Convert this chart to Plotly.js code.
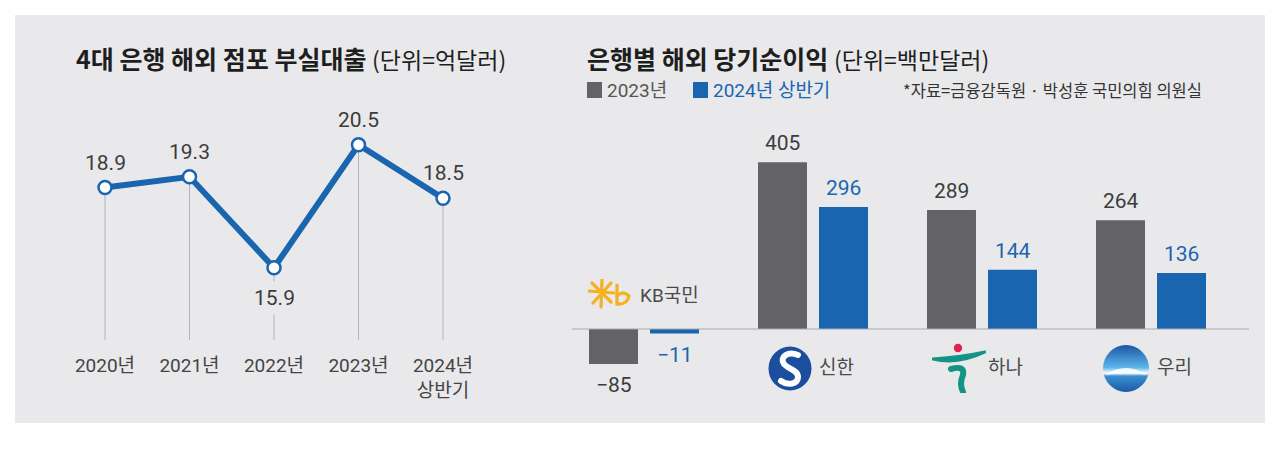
<!DOCTYPE html>
<html>
<head>
<meta charset="utf-8">
<script src="https://cdn.plot.ly/plotly-3.0.1.min.js"></script>
<style>
html,body{margin:0;padding:0;background:#fff;}
#chart{width:1280px;height:463px;}
</style>
</head>
<body>
<div id="chart"></div>
<script>
// ---------- data ----------
const years = ['2020년', '2021년', '2022년', '2023년', '2024년<br>상반기'];
const badLoans = [18.9, 19.3, 15.9, 20.5, 18.5];

const banks = ['KB국민', '신한', '하나', '우리'];
const profit2023 = [-85, 405, 289, 264];
const profit2024H1 = [-11, 296, 144, 136];

const seriesNames = ['2023년', '2024년 상반기'];

// ---------- style ----------
const W = 1280, H = 463;
const px = x => x / W;
const py = y => 1 - y / H;
const NUMFONT = "Roboto,'Noto Sans CJK KR',sans-serif";
const KFONT = "'Noto Sans CJK KR',Roboto,sans-serif";
const BLUE = '#1a65b0';
const GRAY = '#636366';
const TXT = '#3c3c3c';
const PANEL = '#e9e9eb';

const xIdxLeft = years.map((_, i) => i);
const xIdxRight = banks.map((_, i) => i);

// ---------- traces ----------
const lineTrace = {
  type: 'scatter', mode: 'lines+markers',
  x: xIdxLeft, y: badLoans, xaxis: 'x', yaxis: 'y',
  line: {color: BLUE, width: 6},
  marker: {size: 13, color: '#ffffff', line: {color: BLUE, width: 2.5}},
  showlegend: false, hoverinfo: 'skip', cliponaxis: false
};
const bar23 = {
  type: 'bar', name: seriesNames[0], x: xIdxRight, y: profit2023,
  xaxis: 'x2', yaxis: 'y2', marker: {color: GRAY}, showlegend: false, hoverinfo: 'skip'
};
const bar24 = {
  type: 'bar', name: seriesNames[1], x: xIdxRight, y: profit2024H1,
  xaxis: 'x2', yaxis: 'y2', marker: {color: BLUE}, showlegend: false, hoverinfo: 'skip'
};

// ---------- shapes ----------
const shapes = [
  {type: 'rect', xref: 'paper', yref: 'paper', x0: px(15), x1: px(1265), y0: py(423), y1: py(15),
   fillcolor: PANEL, line: {width: 0}, layer: 'below'},
  // zero line of bar chart
  {type: 'line', xref: 'paper', yref: 'y2', x0: px(572), x1: px(1249), y0: 0, y1: 0,
   line: {color: '#a9a9ab', width: 1.2}, layer: 'above'},
  // legend squares
  {type: 'rect', xref: 'paper', yref: 'paper', x0: px(587), x1: px(602), y0: py(98), y1: py(82),
   fillcolor: GRAY, line: {width: 0}},
  {type: 'rect', xref: 'paper', yref: 'paper', x0: px(693), x1: px(708), y0: py(98), y1: py(82),
   fillcolor: BLUE, line: {width: 0}}
];
// drop lines from each point down to the category labels
badLoans.forEach((v, i) => {
  shapes.push({type: 'line', xref: 'x', yref: 'y', x0: i, x1: i, y0: 13.2, y1: v,
    line: {color: '#b4b4b6', width: 1}, layer: 'below'});
});

// ---------- annotations ----------
const ann = [];
ann.push({xref: 'paper', yref: 'paper', x: px(74), y: py(58), xanchor: 'left', yanchor: 'middle', showarrow: false,
  text: "<b>4대 은행 해외 점포 부실대출</b> <span style='font-weight:normal;font-size:23px;'>(단위=억달러)</span>",
  font: {family: KFONT, size: 25, color: '#1e1e1e'}});
ann.push({xref: 'paper', yref: 'paper', x: px(585), y: py(58), xanchor: 'left', yanchor: 'middle', showarrow: false,
  text: "<b>은행별 해외 당기순이익</b> <span style='font-weight:normal;font-size:23px;'>(단위=백만달러)</span>",
  font: {family: KFONT, size: 25, color: '#1e1e1e'}});
// legend texts
ann.push({xref: 'paper', yref: 'paper', x: px(605), y: py(90), xanchor: 'left', yanchor: 'middle', showarrow: false,
  text: seriesNames[0], font: {family: NUMFONT, size: 19, color: '#555'}});
ann.push({xref: 'paper', yref: 'paper', x: px(711), y: py(90), xanchor: 'left', yanchor: 'middle', showarrow: false,
  text: seriesNames[1], font: {family: NUMFONT, size: 19, color: BLUE}});
// source
ann.push({xref: 'paper', yref: 'paper', x: px(901), y: py(90), xanchor: 'left', yanchor: 'middle', showarrow: false,
  text: '*자료=금융감독원 · 박성훈 국민의힘 의원실', font: {family: KFONT, size: 16.5, color: '#333'}});

// line value labels
badLoans.forEach((v, i) => {
  const prev = i > 0 ? badLoans[i - 1] : -Infinity;
  const next = i < badLoans.length - 1 ? badLoans[i + 1] : -Infinity;
  const below = v < prev && v < next && i > 0 && i < badLoans.length - 1;
  ann.push({xref: 'x', yref: 'y', x: i, y: v, showarrow: false,
    yanchor: below ? 'top' : 'bottom', yshift: below ? -13 : 12,
    text: v.toFixed(1), bgcolor: below ? PANEL : 'rgba(0,0,0,0)', borderpad: below ? 4 : 0,
    font: {family: NUMFONT, size: 21, color: TXT}});
});

// bar value labels
const barOff = 30.5;
[[profit2023, TXT, -barOff], [profit2024H1, BLUE, barOff]].forEach(([arr, col, off]) => {
  arr.forEach((v, i) => {
    const neg = v < 0;
    ann.push({xref: 'x2', yref: 'y2', x: i, y: v, xshift: off, showarrow: false,
      yanchor: neg ? 'top' : 'bottom', yshift: neg ? -7 : 5,
      text: (neg ? '−' : '') + Math.abs(v),
      font: {family: NUMFONT, size: 21, color: col}});
  });
});

// bank name labels
banks.forEach((b, i) => {
  const neg = profit2023[i] < 0;
  ann.push({xref: 'x2', yref: 'y2', x: i, y: 0, showarrow: false,
    xanchor: 'left', xshift: neg ? -6 : 4, yanchor: 'middle', yshift: neg ? 34 : -38,
    text: b, font: {family: NUMFONT, size: 19, color: '#4a4a4a'}});
});

// ---------- logos (decorative, inline SVG) ----------
const svg = s => 'data:image/svg+xml;charset=utf-8,' + encodeURIComponent(s);
const kbLogo = svg('<svg xmlns="http://www.w3.org/2000/svg" width="43" height="30" viewBox="0 0 43 30">' +
  '<g stroke="#f5b120" stroke-width="3.2" stroke-linecap="round" fill="none">' +
  '<path d="M14,1 L13,28"/><path d="M1,12 L26,14"/><path d="M4,4 L23,23"/><path d="M23,4 L5,24"/>' +
  '<path d="M29,6 L29,25"/><path d="M29,17 Q35,11 41,17 Q39,26 29,25"/></g></svg>');
const shLogo = svg('<svg xmlns="http://www.w3.org/2000/svg" width="44" height="45" viewBox="0 0 44 45">' +
  '<ellipse cx="22" cy="22.5" rx="21.5" ry="22" fill="#1b4f9d"/>' +
  '<path d="M30,9 C20,5 11,11 16,18 C20,23 30,24 30,31 C30,38 20,40 13,35" stroke="#fff" stroke-width="6" fill="none" stroke-linecap="round"/>' +
  '</svg>');
const hnLogo = svg('<svg xmlns="http://www.w3.org/2000/svg" width="54" height="50" viewBox="0 0 54 50">' +
  '<circle cx="26" cy="5" r="4.2" fill="#e0224e"/>' +
  '<path d="M1,16 Q26,22 53,9 Q30,14 1,16Z" fill="#139487" stroke="#139487" stroke-width="3" stroke-linejoin="round"/>' +
  '<path d="M19,26 Q33,22 31,32 Q27,41 31,49" stroke="#139487" stroke-width="6" fill="none" stroke-linecap="round"/>' +
  '</svg>');
const wrLogo = svg('<svg xmlns="http://www.w3.org/2000/svg" width="46" height="47" viewBox="0 0 46 47">' +
  '<defs><linearGradient id="g" x1="0" y1="0" x2="0" y2="1">' +
  '<stop offset="0" stop-color="#1a56a5"/><stop offset="0.48" stop-color="#5db6ea"/>' +
  '<stop offset="0.6" stop-color="#ffffff"/><stop offset="0.66" stop-color="#3a8fd0"/>' +
  '<stop offset="1" stop-color="#1c5aa8"/></linearGradient></defs>' +
  '<ellipse cx="23" cy="23.5" rx="23" ry="23.5" fill="url(#g)"/>' +
  '<path d="M2,30 Q23,16 44,30 Q23,25 2,30Z" fill="#ffffff" opacity="0.85"/>' +
  '</svg>');
const img = (src, x0, y0, w, h) => ({source: src, xref: 'paper', yref: 'paper', x: px(x0), y: py(y0),
  sizex: w / W, sizey: h / H, xanchor: 'left', yanchor: 'top', sizing: 'stretch', layer: 'above'});
const images = [
  img(kbLogo, 588, 279, 43, 30),
  img(shLogo, 768, 346, 44, 45),
  img(hnLogo, 932, 343, 54, 50),
  img(wrLogo, 1103, 345, 46, 47)
];

// ---------- layout ----------
const layout = {
  width: W, height: H,
  margin: {l: 0, r: 0, t: 0, b: 0},
  paper_bgcolor: '#ffffff', plot_bgcolor: 'rgba(0,0,0,0)',
  showlegend: false,
  barmode: 'group', bargap: 0.278, bargroupgap: 0.197,
  xaxis: {domain: [px(62.75), px(485.25)], range: [-0.5, 4.5], tickvals: xIdxLeft, ticktext: years,
    showgrid: false, zeroline: false, showline: false, ticks: '', ticklabelstandoff: 12,
    tickfont: {family: NUMFONT, size: 19, color: '#444'}, fixedrange: true},
  yaxis: {domain: [py(340), py(104.6)], range: [13.2, 22], visible: false, fixedrange: true},
  xaxis2: {domain: [px(559.5), px(1235.5)], range: [-0.5, 3.5], visible: false, anchor: 'y2', fixedrange: true},
  yaxis2: {domain: [py(432), py(123)], range: [-250, 500], visible: false, anchor: 'x2', fixedrange: true},
  shapes: shapes, annotations: ann, images: images,
  font: {family: NUMFONT}
};

Plotly.newPlot('chart', [bar23, bar24, lineTrace], layout, {staticPlot: true, displayModeBar: false});
</script>
</body>
</html>
